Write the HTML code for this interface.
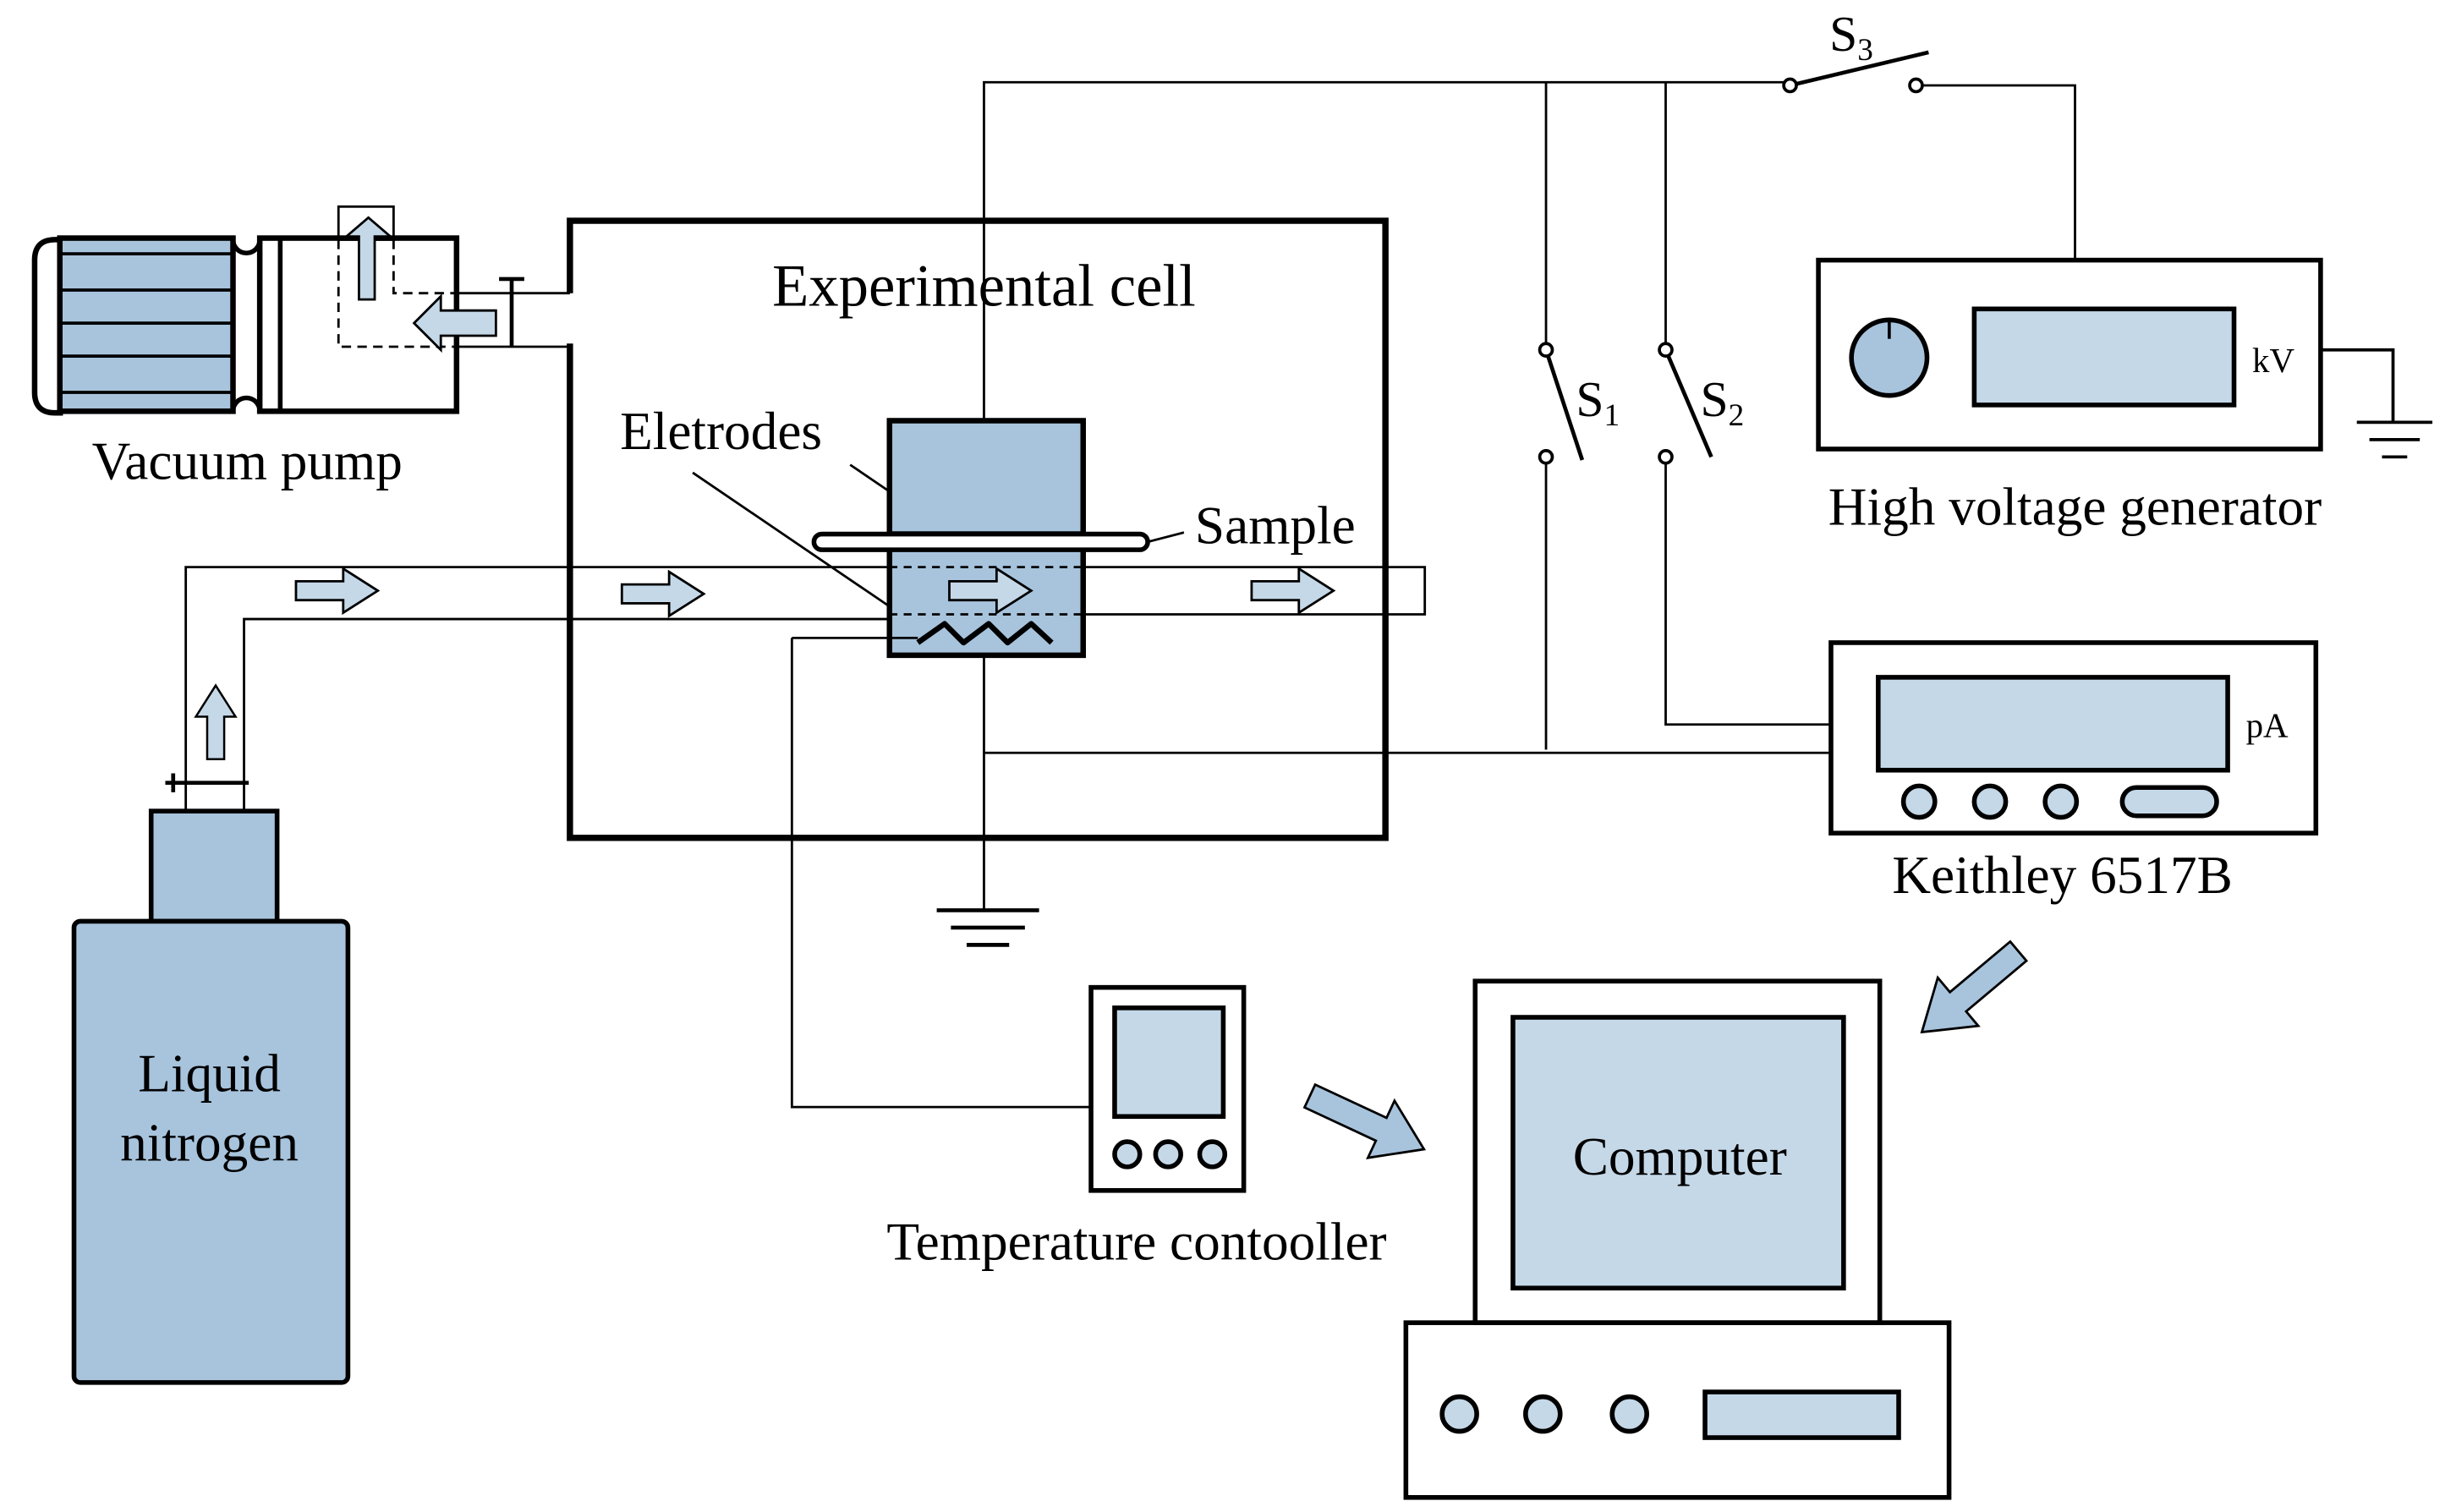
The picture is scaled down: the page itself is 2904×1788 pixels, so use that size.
<!DOCTYPE html>
<html><head><meta charset="utf-8"><style>html,body{margin:0;padding:0;background:#fff}svg{display:block}text{font-family:"Liberation Serif",serif;fill:#000}</style></head>
<body>
<svg width="2904" height="1788" viewBox="0 0 1560 960" xmlns="http://www.w3.org/2000/svg">
<defs>
<polygon id="ar" points="0,-6 30,-6 30,-14 52,0 30,14 30,6 0,6" fill="#c5d8e8" stroke="#000" stroke-width="1.5"/>
</defs>
<g fill="none" stroke="#000">
<!-- Vacuum pump -->
<path d="M40,152 H35 Q22,152 22,165 V249 Q22,262 35,262 H40" stroke-width="3.5"/>
<rect x="38" y="151" width="110" height="110" fill="#a8c4dd" stroke-width="3.5"/>
<path d="M38,161H148M38,184H148M38,205H148M38,226H148M38,249H148" stroke-width="2"/>
<path d="M148,152 A8,8 0 0 0 165,152 M148,261 A8,8 0 0 1 165,261" stroke-width="3"/>
<rect x="165" y="151" width="125" height="110" stroke-width="3.5"/>
<line x1="178" y1="151" x2="178" y2="261" stroke-width="3"/>
<rect x="215" y="131" width="35" height="21" stroke-width="1.5"/>
<path d="M215,152 V220 H290 M250,152 V186 H290" stroke-width="1.5" stroke-dasharray="6,4"/>
<polygon points="228,190 238,190 238,150 248,150 234,138 220,150 228,150" fill="#c5d8e8" stroke-width="1.5"/>
<polygon points="315,197 280,197 280,188 263,205 280,222 280,213 315,213" fill="#c5d8e8" stroke-width="1.5"/>
<path d="M290,186 H362 M290,220 H362" stroke-width="1.5"/>
<path d="M325,178 V220 M317,177 H333" stroke-width="2.5"/>
<!-- Experimental cell -->
<path d="M362,186 V140 H880 V532 H362 V218" stroke-width="4"/>
<!-- wiring -->
<path d="M625,267 V52 H1137 M1217,54 H1318 V165" stroke-width="1.5"/>
<path d="M982,52 V222 M982,290 V476 M1058,52 V222 M1058,290 V460 H1163 M625,416 V578 M625,478 H1163" stroke-width="1.5"/>
<path d="M982,222 L1005,292 M1058,222 L1087,290 M1137,54 L1225,33" stroke-width="2.5"/>
<g stroke-width="2" fill="#fff"><circle cx="982" cy="222" r="4"/><circle cx="982" cy="290" r="4"/><circle cx="1058" cy="222" r="4"/><circle cx="1058" cy="290" r="4"/><circle cx="1137" cy="54" r="4"/><circle cx="1217" cy="54" r="4"/></g>
<path d="M595,578 H660 M604,589 H651 M614,600 H641" stroke-width="2.5"/>
<!-- Electrodes -->
<rect x="565" y="267" width="123" height="72" fill="#a8c4dd" stroke-width="3.5"/>
<rect x="565" y="348" width="123" height="68" fill="#a8c4dd" stroke-width="3.5"/>
<rect x="517" y="339" width="212" height="10" rx="5" fill="#fff" stroke-width="3"/>
<!-- gas pipe -->
<path d="M118,515 V360 H565 M688,360 H905 V390 H688 M565,393 H155 V515" stroke-width="1.5"/>
<path d="M565,360 H688 M565,390 H688" stroke-width="1.5" stroke-dasharray="5,4"/>
<path d="M583,408 L600,396 L612,408 L628,396 L640,408 L655,396 L668,408" stroke-width="3.5" stroke-linejoin="round"/>
<path d="M503,405 H583 M503,405 V703 H693" stroke-width="1.5"/>
<path d="M105,497 H158 M110,491 V503" stroke-width="2.5"/>
<!-- leaders -->
<path d="M540,295 L565,312 M440,300 L565,385 M729,344 L752,338" stroke-width="1.5"/>
<!-- HV generator -->
<rect x="1155" y="165" width="319" height="120" stroke-width="3"/>
<circle cx="1200" cy="227" r="24" fill="#a8c4dd" stroke-width="3"/>
<line x1="1200" y1="203" x2="1200" y2="215" stroke-width="2"/>
<rect x="1254" y="196" width="165" height="61" fill="#c5d8e8" stroke-width="3"/>
<path d="M1474,222 H1520 V268 M1497,268 H1545 M1505,279 H1537 M1513,290 H1529" stroke-width="2"/>
<!-- Keithley -->
<rect x="1163" y="408" width="308" height="121" stroke-width="3"/>
<rect x="1193" y="430" width="222" height="59" fill="#c5d8e8" stroke-width="3"/>
<g fill="#c5d8e8" stroke-width="3"><circle cx="1219" cy="509" r="10"/><circle cx="1264" cy="509" r="10"/><circle cx="1309" cy="509" r="10"/><rect x="1348" y="500" width="60" height="18" rx="9"/></g>
<!-- Liquid nitrogen -->
<rect x="96" y="515" width="80" height="70" fill="#a8c4dd" stroke-width="3"/>
<rect x="47" y="585" width="174" height="293" rx="4" fill="#a8c4dd" stroke-width="3"/>
<!-- Temp controller -->
<rect x="693" y="627" width="97" height="129" stroke-width="3"/>
<rect x="708" y="640" width="69" height="69" fill="#c5d8e8" stroke-width="3"/>
<g fill="#c5d8e8" stroke-width="3"><circle cx="716" cy="733" r="8"/><circle cx="742" cy="733" r="8"/><circle cx="770" cy="733" r="8"/></g>
<!-- Computer -->
<rect x="937" y="623" width="257" height="217" stroke-width="3"/>
<rect x="961" y="646" width="210" height="172" fill="#c5d8e8" stroke-width="3"/>
<rect x="893" y="840" width="345" height="111" stroke-width="3"/>
<g fill="#c5d8e8" stroke-width="3"><circle cx="927" cy="898" r="11"/><circle cx="980" cy="898" r="11"/><circle cx="1035" cy="898" r="11"/><rect x="1083" y="884" width="123" height="29"/></g>
</g>
<!-- flow arrows -->
<use href="#ar" transform="translate(188,375)"/>
<use href="#ar" transform="translate(395,377)"/>
<use href="#ar" transform="translate(603,375)"/>
<use href="#ar" transform="translate(795,375)"/>
<use href="#ar" transform="translate(137,482) rotate(-90) scale(0.9)"/>
<!-- big arrows -->
<polygon points="0,-8 50,-8 50,-20 80,0 50,20 50,8 0,8" fill="#a8c4dd" stroke="#000" stroke-width="1.5" transform="translate(832,696) rotate(25)"/>
<polygon points="0,-8 50,-8 50,-20 80,0 50,20 50,8 0,8" fill="#a8c4dd" stroke="#000" stroke-width="1.5" transform="translate(1282,604) rotate(140)"/>
<!-- labels -->
<text x="625" y="194" font-size="38" text-anchor="middle">Experimental cell</text>
<text x="157" y="304" font-size="34" text-anchor="middle">Vacuum pump</text>
<text x="458" y="285" font-size="34" text-anchor="middle">Eletrodes</text>
<text x="810" y="345" font-size="34" text-anchor="middle">Sample</text>
<text x="133" y="693" font-size="34" text-anchor="middle">Liquid</text>
<text x="133" y="737" font-size="34" text-anchor="middle">nitrogen</text>
<text x="1318" y="333" font-size="34" text-anchor="middle">High voltage generator</text>
<text x="1310" y="567" font-size="34" text-anchor="middle">Keithley 6517B</text>
<text x="722" y="800" font-size="34" text-anchor="middle">Temperature contooller</text>
<text x="1067" y="746" font-size="34" text-anchor="middle">Computer</text>
<text x="1444" y="236" font-size="22" text-anchor="middle">kV</text>
<text x="1440" y="468" font-size="22" text-anchor="middle">pA</text>
<text x="1001" y="264" font-size="32">S<tspan font-size="20" dy="6">1</tspan></text>
<text x="1080" y="264" font-size="32">S<tspan font-size="20" dy="6">2</tspan></text>
<text x="1162" y="32" font-size="32">S<tspan font-size="20" dy="6">3</tspan></text>
</svg>
</body></html>
